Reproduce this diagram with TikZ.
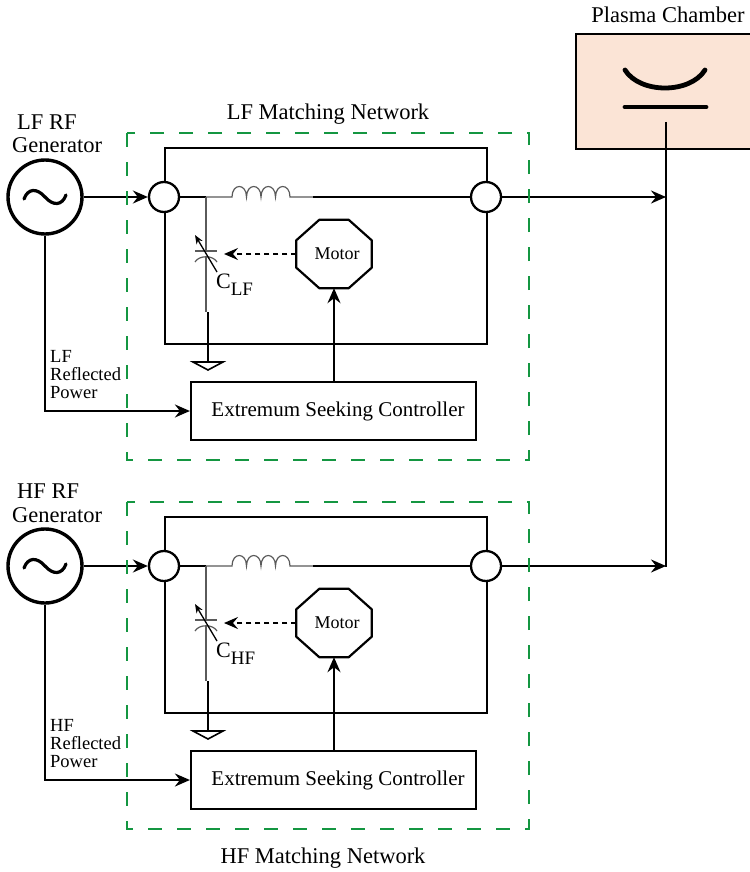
\documentclass[tikz,border=0pt]{standalone}
\usepackage{fontspec}
\setmainfont{Liberation Serif}
\usetikzlibrary{arrows.meta,calc}

\definecolor{netgreen}{RGB}{20,150,65}
\definecolor{chamberfill}{RGB}{251,228,214}
\definecolor{wiregray}{RGB}{90,90,90}

\tikzset{
  wire/.style={line width=2pt, black},
  thinwire/.style={line width=1.2pt, wiregray},
  arr/.style={wire, -{Stealth[length=15pt,width=13pt,inset=5pt]}},
  port/.style={circle, draw, line width=2.3pt, fill=white, minimum size=30pt, inner sep=0pt},
  gen/.style={circle, draw, line width=3.4pt, fill=white, minimum size=74pt, inner sep=0pt},
  block/.style={draw, line width=2.2pt, inner sep=0pt},
  netbox/.style={netgreen, line width=2.5pt, dash pattern=on 14pt off 15pt},
  biglabel/.style={font=\fontsize{22.5}{24}\selectfont, inner sep=0pt},
  smalllabel/.style={font=\fontsize{18.5}{19}\selectfont, inner sep=0pt, anchor=base west},
}

\begin{document}
\begin{tikzpicture}[x=1pt, y=-1pt]
\useasboundingbox (0,0) rectangle (749,872);
\fill[white] (0,0) rectangle (749,872);

% plasma chamber with its electrodes
\node[draw, line width=2.2pt, fill=chamberfill, minimum width=190pt, minimum height=115pt,
      anchor=north west, inner sep=0pt] (chamber) at (575,33) {};
\node[biglabel, anchor=base] (chamberlabel) at (668,23) {Plasma Chamber};
\draw[line width=4.8pt, line cap=round] (625,70) .. controls (640,94) and (690,94) .. (705,70);
\draw[line width=4.8pt, line cap=round] (625,107) -- (706,107);

% common feed line to the chamber
\coordinate (bustop) at (666,122);
\coordinate (busbot) at (666,567);
\draw[wire] (bustop) -- (busbot);

\foreach \k/\lab/\dy in {L/LF/0, H/HF/369}{
\begin{scope}[shift={(0,\dy)}]
  % RF generator
  \node[gen] (gen\k) at (45,197) {};
  \draw[line width=3.2pt, line cap=round]
    ($(gen\k.center)+(-21,2)$) .. controls ($(gen\k.center)+(-17,-9)$) and ($(gen\k.center)+(-8,-9)$) ..
    (gen\k.center) .. controls ($(gen\k.center)+(8,9)$) and ($(gen\k.center)+(17,9)$) ..
    ($(gen\k.center)+(21,-2)$);
  \node[biglabel, anchor=base west] (genname\k) at (17,129) {\lab\ RF};
  \node[biglabel, anchor=base west] (gentype\k) at (12,153) {Generator};

  % matching network frame and ports
  \node[block, minimum width=322pt, minimum height=196pt, anchor=north west] (frame\k) at (164,147) {};
  \node[port] (in\k) at (164,197) {};
  \node[port] (out\k) at (486,197) {};

  % series inductor branch
  \coordinate (tap\k) at (206,197);
  \draw[wire] (in\k.east) -- (tap\k);
  \draw[thinwire] (tap\k) -- (232,197)
    .. controls (232,183) and (246.5,183) .. (246.5,197)
    .. controls (246.5,183) and (261,183) .. (261,197)
    .. controls (261,183) and (275.5,183) .. (275.5,197)
    .. controls (275.5,183) and (290,183) .. (290,197) -- (313,197);
  \draw[wire] (313,197) -- (out\k.west);

  % shunt variable capacitor to ground
  \draw[thinwire] (tap\k) -- (206,251);
  \draw[thinwire] (195,251) -- (217,251);
  \draw[thinwire] (195,262) .. controls (199,255) and (213,255) .. (217,262);
  \draw[thinwire] (206,257) -- (206,312);
  \draw[line width=1.3pt, -{Stealth[length=9pt,width=7pt]}] (217,272) -- (195,235);
  \node[anchor=base west, inner sep=0pt, font=\fontsize{22}{22}\selectfont] (cap\k) at (216,288)
    {C\raisebox{-7pt}{\fontsize{19}{19}\selectfont\lab}};
  \draw[line width=1.6pt] (208,312) -- (208,362);
  \draw[line width=1.6pt, fill=white] (193,362) -- (223,362) -- (208,370) -- cycle;

  % motor
  \node[inner sep=0pt, minimum width=75pt, minimum height=68pt, font=\fontsize{18}{18}\selectfont]
    (mot\k) at (334,254) {\hspace{6pt}Motor};
  \draw[block]
    ($(mot\k.north west)+(23,0)$) -- ($(mot\k.north east)+(-23,0)$) --
    ($(mot\k.north east)+(0,20.5)$) -- ($(mot\k.south east)+(0,-20.5)$) --
    ($(mot\k.south east)+(-23,0)$) -- ($(mot\k.south west)+(23,0)$) --
    ($(mot\k.south west)+(0,-20.5)$) -- ($(mot\k.north west)+(0,20.5)$) -- cycle;
  \coordinate (knob\k) at (224,255);
  \draw[wire, dash pattern=on 5pt off 4pt, -{Stealth[length=14pt,width=12pt,inset=5pt]}]
    (mot\k.west) -- (mot\k.west -| knob\k);

  % extremum seeking controller
  \node[block, minimum width=285pt, minimum height=58pt, font=\fontsize{21}{21}\selectfont]
    (esc\k) at (333.5,411) {\hspace{9pt}Extremum Seeking Controller};
  \draw[arr] (mot\k.south |- esc\k.north) -- (mot\k.south);

  % reflected power feedback
  \draw[arr] (gen\k.south) |- (esc\k.west);
  \node[smalllabel] (refa\k) at (50,362) {\lab};
  \node[smalllabel] (refb\k) at (50,380) {Reflected};
  \node[smalllabel] (refc\k) at (50,398) {Power};

  % RF path
  \draw[arr] (gen\k.east) -- (in\k.west);
  \draw[arr] (out\k.east) -- (out\k.east -| bustop);

  % matching network boundary
  \draw[netbox] (127,133) rectangle (529,460);
\end{scope}
}

\node[biglabel, anchor=base] (lfnet) at (328,120) {LF Matching Network};
\node[biglabel, anchor=base] (hfnet) at (323,863) {HF Matching Network};
\end{tikzpicture}
\end{document}
